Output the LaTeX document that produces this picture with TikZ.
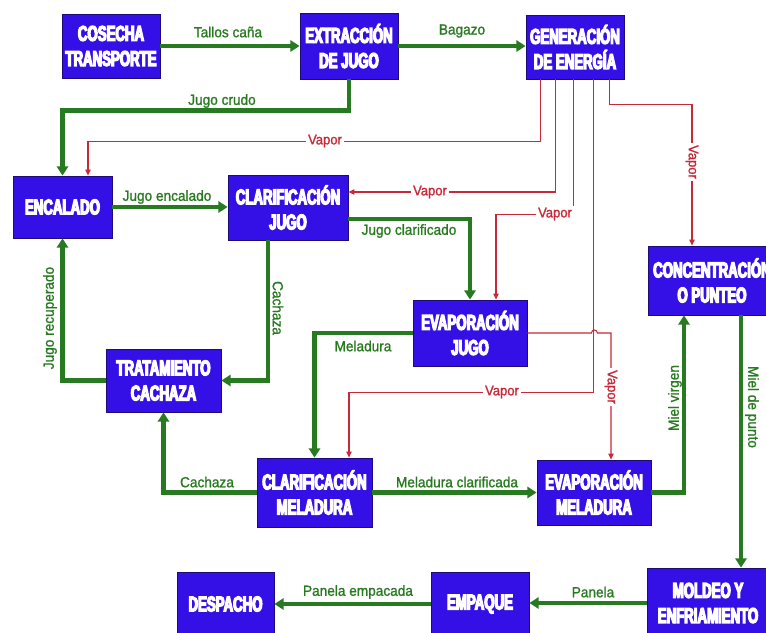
\documentclass[tikz,border=0pt]{standalone}
\usepackage{fontspec}
\setmainfont{Liberation Sans}
\newfontfamily\boxfont[FakeStretch=0.62,FakeBold=6]{Liberation Sans}
\newfontfamily\lblfont[FakeStretch=0.93,FakeBold=1.2]{Liberation Sans}
\usetikzlibrary{arrows.meta,calc}

\definecolor{boxblue}{RGB}{52,16,230}
\definecolor{boxedge}{RGB}{30,10,120}
\definecolor{flowgreen}{RGB}{40,122,32}
\definecolor{vaporred}{RGB}{200,40,55}

\tikzset{
  proc/.style={draw=boxedge, line width=0.6pt, fill=boxblue, text=white, align=center,
        inner sep=0pt, minimum width=73.5pt, minimum height=48pt,
        font=\boxfont\bfseries\fontsize{16pt}{18.8pt}\selectfont},
  flow/.style={->, >={Triangle[length=7pt,width=8.5pt]}, draw=flowgreen, line width=3.3pt},
  vap/.style={->, >={Triangle[length=4.5pt,width=4pt]}, draw=vaporred, line width=0.8pt},
  lbl/.style={text=flowgreen, font=\lblfont\fontsize{11pt}{13pt}\selectfont, inner sep=1pt},
  vlbl/.style={text=vaporred, fill=white, font=\lblfont\fontsize{10.5pt}{12pt}\selectfont, inner sep=1.5pt},
}

\begin{document}
\begin{tikzpicture}[x=0.75pt, y=-0.75pt]
\useasboundingbox (0,0) rectangle (766,632);
\clip (0,0) rectangle (766,632);

% === PROCESS BOXES ===
\node[proc] (cos) at (111,46) {COSECHA\\TRANSPORTE};
\node[proc, minimum height=49.5pt] (ext) at (349,46) {EXTRACCIÓN\\DE JUGO};
\node[proc] (gen) at (575,47) {GENERACIÓN\\DE ENERGÍA};
\node[proc, minimum width=74.25pt, minimum height=46.5pt] (enc) at (62.5,207) {ENCALADO};
\node[proc, minimum width=90pt, minimum height=48.75pt] (clj) at (288,207.5) {CLARIFICACIÓN\\JUGO};
\node[proc, minimum width=86.25pt, minimum height=47.25pt] (tra) at (163.5,380.5) {TRATAMIENTO\\CACHAZA};
\node[proc, minimum width=85.5pt, minimum height=49.5pt] (evj) at (470,333) {EVAPORACIÓN\\JUGO};
\node[proc, minimum width=86.25pt, minimum height=51.75pt] (clm) at (314.5,492.5) {CLARIFICACIÓN\\MELADURA};
\node[proc, minimum width=85.5pt, minimum height=48.75pt] (evm) at (594,492.5) {EVAPORACIÓN\\MELADURA};
\node[proc, minimum width=96pt, minimum height=51.75pt] (con) at (712,280.5) {CONCENTRACIÓN\\O PUNTEO};
\node[proc, minimum width=91.5pt, minimum height=52.5pt] (mol) at (708,603) {MOLDEO Y\\ENFRIAMIENTO};
\node[proc] (emp) at (480,604) {EMPAQUE};
\node[proc, minimum width=72.75pt] (des) at (225.5,604) {DESPACHO};

% === STEAM LINES (from energy) ===
\coordinate (g1) at ($(gen.south west)+(15,0)$);
\coordinate (g2) at ($(gen.south west)+(30,0)$);
\coordinate (g3) at ($(gen.south west)+(48,0)$);
\coordinate (g4) at ($(gen.south west)+(68,0)$);
\coordinate (g5) at ($(gen.south west)+(84,0)$);

\draw[vap] (g1) -- ++(0,62) -| ($(enc.north)+(25.5,0)$);
\draw[vap] (g2) |- ($(clj.east)+(0,-15.5)$);
\draw[vap] (g3) -- ++(0,135) -| ($(evj.north)+(26,0)$);
\draw[vap] (g4) -- ++(0,313) -| ($(clm.north)+(34.5,0)$);
\draw[vap] (g5) -- ++(0,25) -| ($(con.north)+(-20,0)$);
% steam from juice evaporation, hops over the line above
\draw[vap] (evj.east) -- ++(64,0) arc (180:360:3) -| ($(evm.north)+(17,0)$);

% === MAIN FLOW ===
\draw[flow] (cos) -- (ext);
\draw[flow] (ext.east) -- (ext.east -| gen.west);
\draw[flow] (ext.south) -- ++(0,31) -| (enc.north);
\draw[flow] (enc) -- (enc -| clj.west);
\draw[flow] ($(clj.east)+(0,11.5)$) -| (evj.north);
\draw[flow] ($(clj.south)+(-20,0)$) |- (tra.east);
\draw[flow] (tra.west) -| (enc.south);
\draw[flow] (evj.west) -| (clm.north);
\draw[flow] (clm.west) -| (tra.south);
\draw[flow] (clm) -- (clm -| evm.west);
\draw[flow] (evm.east) -| ($(con.south)+(-28,0)$);
\draw[flow] ($(con.south)+(29,0)$) -- ($(mol.north)+(33,0)$);
\draw[flow] (mol.west) -- (mol.west -| emp.east);
\draw[flow] (emp.west) -- (emp.west -| des.east);

% === FLOW LABELS ===
\node[lbl] (tTallos) at (228,32) {Tallos caña};
\node[lbl] (tBagazo) at (462,31) {Bagazo};
\node[lbl] (tCrudo) at (222,101) {Jugo crudo};
\node[lbl] (tEncal) at (167,197) {Jugo encalado};
\node[lbl] (tClarif) at (409,231) {Jugo clarificado};
\node[lbl, rotate=-90] (tCach1) at (278,308) {Cachaza};
\node[lbl, rotate=90] (tRecup) at (50,318) {Jugo recuperado};
\node[lbl] (tMel) at (363,346) {Meladura};
\node[lbl] (tCach2) at (207,482) {Cachaza};
\node[lbl] (tMelClar) at (457,482) {Meladura clarificada};
\node[lbl, rotate=90] (tVirgen) at (675,398) {Miel virgen};
\node[lbl, rotate=-90] (tPunto) at (752,407) {Miel de punto};
\node[lbl] (tPanela) at (593,592) {Panela};
\node[lbl] (tEmpac) at (358,592) {Panela empacada};

% === STEAM LABELS ===
\node[vlbl] (v1) at (325,141) {Vapor};
\node[vlbl] (v2) at (430,192) {Vapor};
\node[vlbl] (v3) at (555,214) {Vapor};
\node[vlbl] (v4) at (502,392) {Vapor};
\node[vlbl, rotate=-90] (v5) at (692,162) {Vapor};
\node[vlbl, rotate=-90] (v6) at (611,387) {Vapor};

\end{tikzpicture}
\end{document}
